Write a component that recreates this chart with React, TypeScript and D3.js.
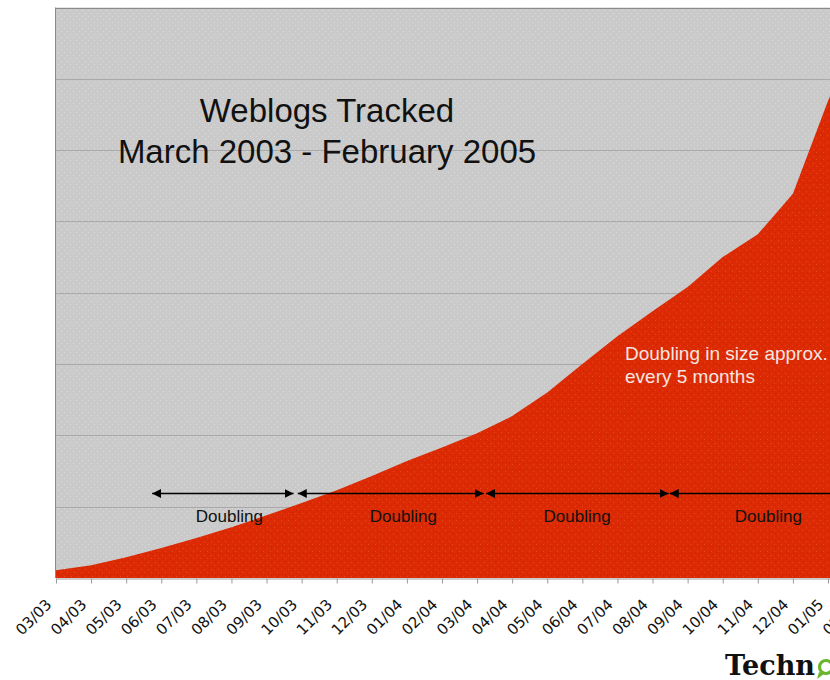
import React, { useRef, useEffect } from "react";
import * as d3 from "d3";

// month labels, 03/03 .. 02/05
const months = [
  "03/03", "04/03", "05/03", "06/03", "07/03", "08/03", "09/03", "10/03",
  "11/03", "12/03", "01/04", "02/04", "03/04", "04/04", "05/04", "06/04",
  "07/04", "08/04", "09/04", "10/04", "11/04", "12/04", "01/05", "02/05",
];

// weblogs tracked, millions
const weblogs = [
  0.11, 0.18, 0.29, 0.42, 0.56, 0.71, 0.88, 1.05, 1.23, 1.43, 1.64, 1.83,
  2.03, 2.27, 2.6, 3.0, 3.39, 3.74, 4.08, 4.5, 4.82, 5.39, 6.69, 7.8,
];

const gridValues = [1, 2, 3, 4, 5, 6, 7, 8];

// doubling periods, in month index units
const doublingSpans = [
  [2.74, 6.77],
  [6.89, 12.19],
  [12.26, 17.46],
  [17.49, 23.1],
];
const doublingLabelAt = [4.94, 9.9, 14.85, 20.3];

const W = 830;
const H = 680;

const App: React.FC = () => {
  const ref = useRef<SVGSVGElement | null>(null);

  useEffect(() => {
    if (!ref.current) return;
    const svg = d3.select(ref.current);
    svg.selectAll("*").remove();

    const left = 55.5;
    const top = 7.5;
    const bottom = 578;
    const step = 35.09;

    const x = d3
      .scaleLinear()
      .domain([0, months.length - 1])
      .range([56, 56 + step * (months.length - 1)]);
    const y = d3.scaleLinear().domain([0, 8]).range([bottom, top]);

    const defs = svg.append("defs");
    const gp = defs
      .append("pattern")
      .attr("id", "grayDots")
      .attr("width", 6)
      .attr("height", 6)
      .attr("patternUnits", "userSpaceOnUse");
    gp.append("rect").attr("width", 6).attr("height", 6).attr("fill", "#cacaca");
    gp.append("rect").attr("x", 1).attr("y", 1).attr("width", 1).attr("height", 1).attr("fill", "#dadada");
    gp.append("rect").attr("x", 4).attr("y", 4).attr("width", 1).attr("height", 1).attr("fill", "#dadada");

    const rp = defs
      .append("pattern")
      .attr("id", "redNoise")
      .attr("width", 7)
      .attr("height", 7)
      .attr("patternUnits", "userSpaceOnUse");
    rp.append("rect").attr("width", 7).attr("height", 7).attr("fill", "#dc2a04");
    [[1, 2, "#e5471c"], [4, 5, "#e5471c"], [5, 1, "#cc2000"], [2, 6, "#cc2000"]].forEach(([px, py, c]) => {
      rp.append("rect").attr("x", px).attr("y", py).attr("width", 1).attr("height", 1).attr("fill", c as string);
    });

    // plot background
    svg
      .append("rect")
      .attr("x", left)
      .attr("y", top)
      .attr("width", W - left + 40)
      .attr("height", bottom - top)
      .attr("fill", "url(#grayDots)");

    // grid lines
    svg
      .append("g")
      .selectAll("line")
      .data(gridValues)
      .join("line")
      .attr("x1", left)
      .attr("x2", W + 40)
      .attr("y1", (d) => Math.round(y(d)) + 0.5)
      .attr("y2", (d) => Math.round(y(d)) + 0.5)
      .attr("stroke", (d) => (d === 8 ? "#8a8a8a" : "#a9a9a9"))
      .attr("stroke-width", 1);

    // area
    const area = d3
      .area<number>()
      .x((_, i) => x(i))
      .y0(bottom)
      .y1((d) => y(d));
    svg.append("path").datum(weblogs).attr("d", area).attr("fill", "url(#redNoise)");

    // left border
    svg
      .append("line")
      .attr("x1", left)
      .attr("x2", left)
      .attr("y1", top)
      .attr("y2", bottom)
      .attr("stroke", "#8a8a8a");

    // x axis
    const axis = svg
      .append("g")
      .attr("transform", `translate(0,${bottom + 0.5})`)
      .call(
        d3
          .axisBottom(x)
          .tickValues(d3.range(months.length))
          .tickFormat((i) => months[i as number])
          .tickSize(5)
          .tickSizeOuter(0)
      );
    axis.select(".domain").attr("stroke", "#9a9a9a");
    axis.selectAll(".tick line").attr("stroke", "#9a9a9a");
    axis
      .selectAll<SVGTextElement, number>(".tick text")
      .attr("font-family", "DejaVu Sans, sans-serif")
      .attr("font-size", 15)
      .attr("fill", "#111")
      .attr("text-anchor", "end")
      .attr("dy", 0)
      .attr("y", 0)
      .attr("transform", "translate(-4,27) rotate(-45)");

    // doubling arrows
    const arrowY = Math.round(y(1.19)) + 0.5;
    defs
      .append("marker")
      .attr("id", "arrowHead")
      .attr("viewBox", "0 0 10 10")
      .attr("refX", 10)
      .attr("refY", 5)
      .attr("markerWidth", 9)
      .attr("markerHeight", 9)
      .attr("markerUnits", "userSpaceOnUse")
      .attr("orient", "auto-start-reverse")
      .append("path")
      .attr("d", "M0,0 L10,5 L0,10 Z")
      .attr("fill", "#000");

    svg
      .append("g")
      .selectAll("line")
      .data(doublingSpans)
      .join("line")
      .attr("x1", (d) => x(d[0]))
      .attr("x2", (d) => x(d[1]))
      .attr("y1", arrowY)
      .attr("y2", arrowY)
      .attr("stroke", "#000")
      .attr("stroke-width", 1.3)
      .attr("marker-start", "url(#arrowHead)")
      .attr("marker-end", "url(#arrowHead)");

    svg
      .append("g")
      .selectAll("text")
      .data(doublingLabelAt)
      .join("text")
      .attr("x", (d) => x(d))
      .attr("y", 522)
      .attr("text-anchor", "middle")
      .attr("font-family", "Liberation Sans, Arial, sans-serif")
      .attr("font-size", 17)
      .attr("fill", "#111")
      .text("Doubling");

    // title
    const title = svg
      .append("g")
      .attr("font-family", "Liberation Sans, Arial, sans-serif")
      .attr("font-size", 33)
      .attr("fill", "#111")
      .attr("text-anchor", "middle");
    title.append("text").attr("x", 327).attr("y", 122).text("Weblogs Tracked");
    title.append("text").attr("x", 327).attr("y", 163).text("March 2003 - February 2005");

    // note inside area
    const note = svg
      .append("g")
      .attr("font-family", "Liberation Sans, Arial, sans-serif")
      .attr("font-size", 19)
      .attr("fill", "#f4e6e0");
    note.append("text").attr("x", 625).attr("y", 360).text("Doubling in size approx.");
    note.append("text").attr("x", 625).attr("y", 383).text("every 5 months");

    // logo
    svg
      .append("text")
      .attr("x", 725)
      .attr("y", 675)
      .attr("font-family", "DejaVu Serif, serif")
      .attr("font-weight", "bold")
      .attr("font-size", 28)
      .attr("textLength", 90)
      .attr("lengthAdjust", "spacingAndGlyphs")
      .attr("fill", "#111")
      .text("Techn");
    svg
      .append("circle")
      .attr("cx", 826)
      .attr("cy", 667)
      .attr("r", 6.5)
      .attr("fill", "none")
      .attr("stroke", "#6ab52c")
      .attr("stroke-width", 3.2);
    svg
      .append("path")
      .attr("d", "M819,672 L817,679 L824,674 Z")
      .attr("fill", "#6ab52c");
  }, []);

  return (
    <div style={{ position: "absolute", left: 0, top: 0, width: W, height: H, overflow: "hidden", background: "#fff" }}>
      <svg ref={ref} width={W} height={H} style={{ display: "block" }} />
    </div>
  );
};

export default App;
